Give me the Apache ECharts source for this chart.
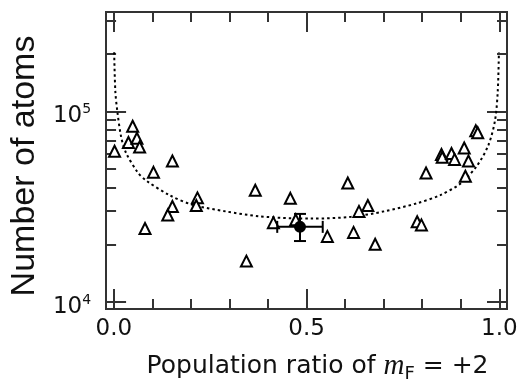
<!DOCTYPE html>
<html>
<head>
<meta charset="utf-8">
<script src="https://cdn.jsdelivr.net/npm/echarts@6/dist/echarts.min.js"></script>
<style>
html,body{margin:0;padding:0;background:#fff;}
#chart{width:523px;height:388px;}
</style>
</head>
<body>
<div id="chart"></div>
<script>
// ---- data ----
const triX = [0.002,0.049,0.038,0.060,0.067,0.152,0.103,0.081,0.152,0.140,0.217,0.214,0.367,0.344,0.414,0.458,0.472,0.554,0.607,0.622,0.636,0.659,0.678,0.787,0.798,0.810,0.850,0.852,0.876,0.884,0.909,0.920,0.912,0.939,0.944];
const triY = [61800,83600,68700,72300,65000,54900,47900,24300,31700,28600,35200,32100,38600,16400,26100,35000,27000,22100,42100,23200,29900,32100,20100,26400,25400,47500,59400,57500,60100,56000,64300,54900,45700,79100,77300];

const curveX = [0.001,0.004,0.009,0.019,0.032,0.062,0.084,0.144,0.204,0.290,0.376,0.461,0.513,0.616,0.701,0.787,0.847,0.899,0.942,0.972,0.989,0.996,0.999];
const curveY = [204000,127500,100800,73600,60500,47900,43400,36400,32400,29900,28200,27500,27400,28000,29900,33000,36400,41800,51800,66800,89900,127500,204000];

const meanX = [0.483];
const meanY = [24800];
const meanXErr = [0.059];
const meanYLow = [20900];
const meanYHigh = [29000];

const xMajorTicks = [0, 0.5, 1.0];
const xMinorTicks = [0.1,0.2,0.3,0.4,0.6,0.7,0.8,0.9];
const yMajorTicks = [10000, 100000];
const yMinorTicks = [20000,30000,40000,50000,60000,70000,80000,90000,200000,300000];

// ---- chart ----
const SANS = 'Liberation Sans';
const WIDE = 'DejaVu Sans';
const AX = '#333';
const TXT = '#111';
const chart = echarts.init(document.getElementById('chart'));

function xAx(pos, ticks, len, withLabel, withName) {
  return {
    type: 'value', position: pos, min: -0.02, max: 1.02,
    axisLine: {show: true, onZero: false, lineStyle: {color: AX, width: 2}},
    axisTick: {show: true, inside: true, length: len, customValues: ticks, lineStyle: {color: AX, width: 2}},
    axisLabel: withLabel ? {show: true, customValues: ticks, margin: 9, color: TXT, fontFamily: WIDE, fontSize: 23,
      formatter: v => Number(v).toFixed(1)} : {show: false},
    splitLine: {show: false},
    name: withName ? 'Population ratio of {i|m}{sub|F} = +2' : '',
    nameLocation: 'middle', nameGap: 41,
    nameTextStyle: withName ? {color: TXT, fontFamily: WIDE, fontSize: 25, lineHeight: 33, padding: [0,0,0,22],
      rich: {
        i: {fontFamily: 'Liberation Serif', fontStyle: 'italic', fontSize: 29, lineHeight: 33, color: TXT},
        sub: {fontFamily: WIDE, fontSize: 18, color: TXT, verticalAlign: 'bottom'}
      }} : {}
  };
}
function yAx(pos, ticks, len, withLabel, withName) {
  return {
    type: 'log', position: pos, min: 9200, max: 332000, logBase: 10,
    axisLine: {show: true, onZero: false, lineStyle: {color: AX, width: 2}},
    axisTick: {show: true, inside: true, length: len, customValues: ticks, lineStyle: {color: AX, width: 2}},
    axisLabel: withLabel ? {show: true, customValues: ticks, margin: 15, color: TXT, fontFamily: WIDE,
      padding: [10, 0, 0, 0],
      formatter: v => '{b|10}{s|' + Math.round(Math.log10(v)) + '}',
      rich: {
        b: {fontFamily: WIDE, fontSize: 23, lineHeight: 28, color: TXT},
        s: {fontFamily: WIDE, fontSize: 14, verticalAlign: 'top', color: TXT}
      }} : {show: false},
    splitLine: {show: false},
    minorTick: {show: false},
    name: withName ? 'Number of atoms' : '',
    nameLocation: 'middle', nameGap: 60,
    nameTextStyle: {color: TXT, fontFamily: SANS, fontSize: 34, padding: [0, 11, 0, 0]}
  };
}

const option = {
  animation: false,
  backgroundColor: '#fff',
  grid: {left: 103, right: 16, top: 12, bottom: 71, containLabel: false},
  xAxis: [
    xAx('bottom', xMajorTicks, 20, true, true),
    xAx('bottom', xMinorTicks, 10, false, false),
    xAx('top', xMajorTicks, 20, false, false),
    xAx('top', xMinorTicks, 10, false, false)
  ],
  yAxis: [
    yAx('left', yMajorTicks, 20, true, true),
    yAx('left', yMinorTicks, 10, false, false),
    yAx('right', yMajorTicks, 20, false, false),
    yAx('right', yMinorTicks, 10, false, false)
  ],
  series: [
    {
      type: 'line', xAxisIndex: 0, yAxisIndex: 0, z: 1,
      data: curveX.map((x, i) => [x, curveY[i]]),
      smooth: 0.3, showSymbol: false, symbol: 'none',
      lineStyle: {color: '#000', width: 2, type: [2.5, 3]}
    },
    {
      type: 'scatter', xAxisIndex: 0, yAxisIndex: 0, z: 3,
      data: triX.map((x, i) => [x, triY[i]]),
      symbol: 'triangle', symbolSize: [11, 11],
      itemStyle: {color: '#fff', borderColor: '#000', borderWidth: 2, opacity: 1}
    },
    {
      type: 'custom', xAxisIndex: 0, yAxisIndex: 0, z: 4,
      data: meanX.map((x, i) => [x, meanY[i], x - meanXErr[i], x + meanXErr[i], meanYLow[i], meanYHigh[i]]),
      renderItem: function (params, api) {
        const c = api.coord([api.value(0), api.value(1)]);
        const l = api.coord([api.value(2), api.value(1)]);
        const r = api.coord([api.value(3), api.value(1)]);
        const lo = api.coord([api.value(0), api.value(4)]);
        const hi = api.coord([api.value(0), api.value(5)]);
        const st = {stroke: '#000', lineWidth: 2};
        const cap = 6;
        return {type: 'group', children: [
          {type: 'line', shape: {x1: l[0], y1: c[1], x2: r[0], y2: c[1]}, style: st},
          {type: 'line', shape: {x1: l[0], y1: c[1] - cap, x2: l[0], y2: c[1] + cap}, style: st},
          {type: 'line', shape: {x1: r[0], y1: c[1] - cap, x2: r[0], y2: c[1] + cap}, style: st},
          {type: 'line', shape: {x1: c[0], y1: lo[1], x2: c[0], y2: hi[1]}, style: st},
          {type: 'line', shape: {x1: c[0] - cap, y1: lo[1], x2: c[0] + cap, y2: lo[1]}, style: st},
          {type: 'line', shape: {x1: c[0] - cap, y1: hi[1], x2: c[0] + cap, y2: hi[1]}, style: st}
        ]};
      }
    },
    {
      type: 'scatter', xAxisIndex: 0, yAxisIndex: 0, z: 5,
      data: meanX.map((x, i) => [x, meanY[i]]),
      symbol: 'circle', symbolSize: 12,
      itemStyle: {color: '#000', opacity: 1}
    }
  ]
};
chart.setOption(option);
</script>
</body>
</html>
